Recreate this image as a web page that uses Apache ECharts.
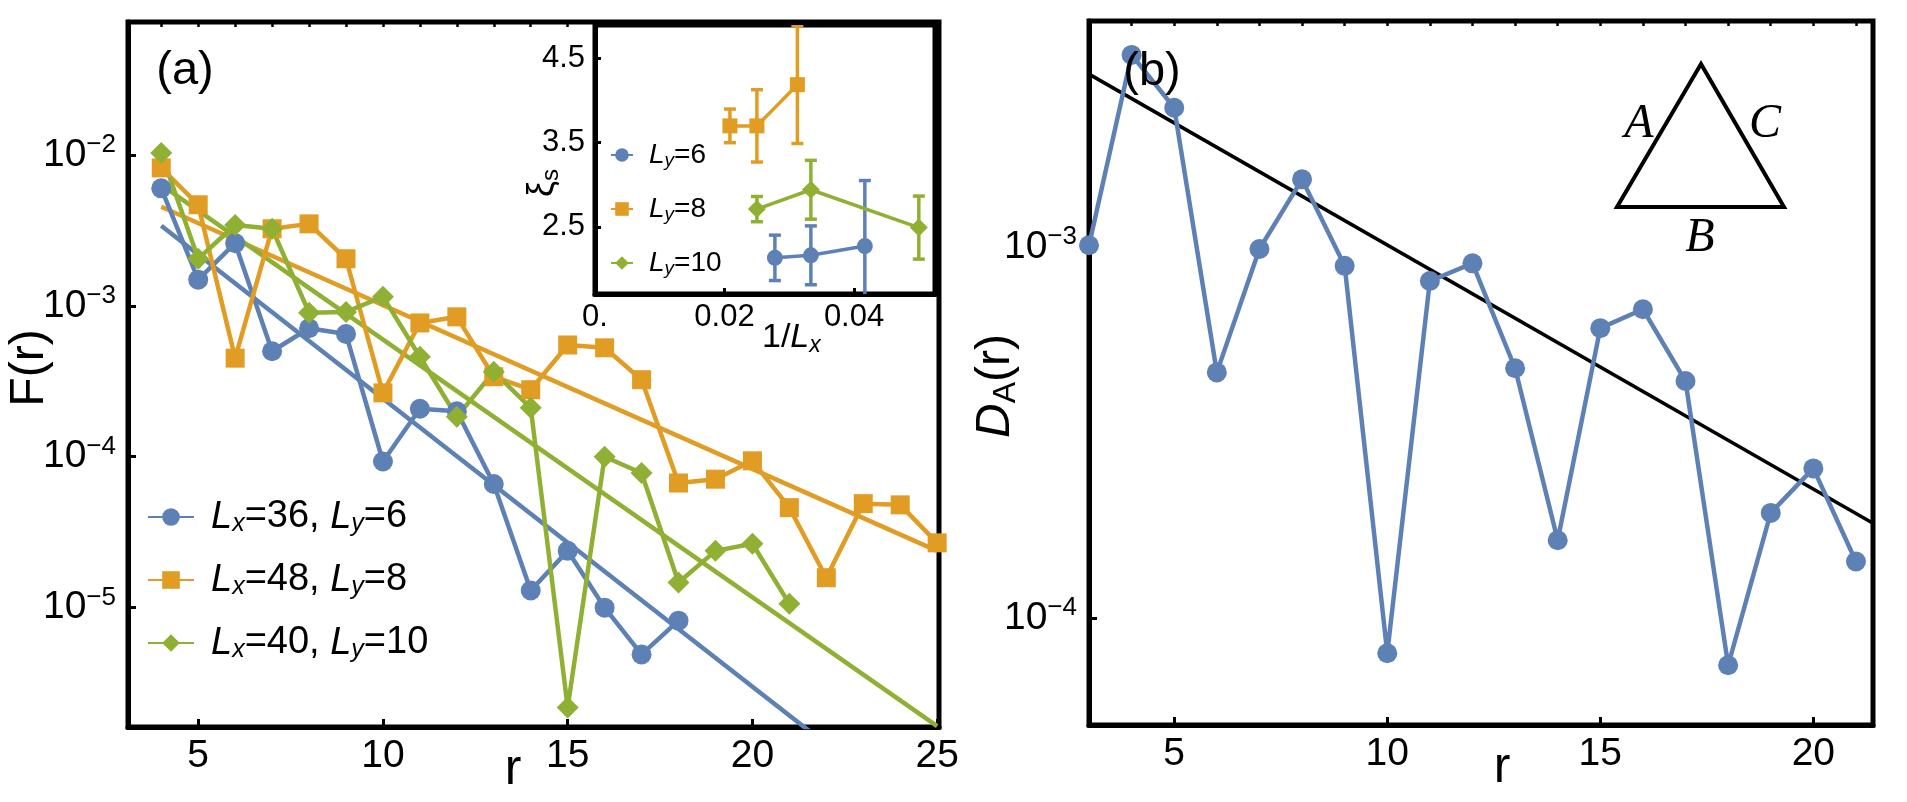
<!DOCTYPE html>
<html>
<head>
<meta charset="utf-8">
<title>F(r) and D_A(r)</title>
<script src="https://cdn.jsdelivr.net/npm/echarts@6.0.0/dist/echarts.min.js"></script>
<style>
  html, body { margin: 0; padding: 0; background: #fff; }
  #main { width: 1907px; height: 802px; }
</style>
</head>
<body>
<div id="main"></div>
<script>
var BLUE = '#5E81B5', ORANGE = '#E19C24', GREEN = '#8FB032';
var FONT = '"Liberation Sans", Arial, sans-serif';
var SERIF = '"Liberation Serif", "DejaVu Serif", serif';

// (a) F(r)
var rBlue = [4, 5, 6, 7, 8, 9, 10, 11, 12, 13, 14, 15, 16, 17, 18];
var fBlue = [6.0e-3, 1.49e-3, 2.6e-3, 5.0e-4, 7.1e-4, 6.5e-4, 9.3e-5, 2.08e-4, 2.0e-4,
             6.6e-5, 1.30e-5, 2.38e-5, 1.0e-5, 4.9e-6, 8.2e-6];
var rOrange = [4, 5, 6, 7, 8, 9, 10, 11, 12, 13, 14, 15, 16, 17, 18, 19, 20, 21, 22, 23, 24, 25];
var fOrange = [8.2e-3, 4.67e-3, 4.5e-4, 3.24e-3, 3.49e-3, 2.05e-3, 2.65e-4, 7.7e-4, 8.45e-4,
               3.39e-4, 2.78e-4, 5.5e-4, 5.27e-4, 3.24e-4, 6.7e-5, 7.1e-5, 9.4e-5, 4.6e-5,
               1.58e-5, 4.89e-5, 4.8e-5, 2.69e-5];
var rGreen = [4, 5, 6, 7, 8, 9, 10, 11, 12, 13, 14, 15, 16, 17, 18, 19, 20, 21];
var fGreen = [1.03e-2, 2.05e-3, 3.43e-3, 3.24e-3, 9.0e-4, 9.1e-4, 1.15e-3, 4.6e-4, 1.84e-4,
              3.65e-4, 2.11e-4, 2.18e-6, 1.0e-4, 7.8e-5, 1.47e-5, 2.38e-5, 2.65e-5, 1.06e-5];

// exponential fits (end points of the straight lines)
var fitR = [4, 25];
var fitBlue = [3.39e-3, 3.33e-7];
var fitOrange = [4.53e-3, 2.38e-5];
var fitGreen = [6.32e-3, 1.64e-6];

var legendLx = [36, 48, 40];
var legendLy = [6, 8, 10];

// inset: xi_s against 1/Lx
var lxBlue = [36, 30, 24];
var xiBlue = [2.13, 2.16, 2.27];
var errBlue = [0.27, 0.35, 0.78];
var lxOrange = [48, 40, 32];
var xiOrange = [3.70, 3.70, 4.19];
var errOrange = [0.20, 0.43, 0.70];
var lxGreen = [40, 30, 20];
var xiGreen = [2.71, 2.94, 2.49];
var errGreen = [0.15, 0.35, 0.375];

// (b) D_A(r)
var rB = [3, 4, 5, 6, 7, 8, 9, 10, 11, 12, 13, 14, 15, 16, 17, 18, 19, 20, 21];
var dA = [1.01e-3, 3.29e-3, 2.37e-3, 4.59e-4, 9.87e-4, 1.52e-3, 8.89e-4, 8.04e-5, 8.09e-4,
          9.03e-4, 4.71e-4, 1.62e-4, 6.04e-4, 6.79e-4, 4.35e-4, 7.46e-5, 1.92e-4, 2.53e-4, 1.42e-4];
var fitBR = [3, 21.4];
var fitB = [2.92e-3, 1.80e-4];

// ticks
var ticksA = [5, 10, 15, 20, 25];
var minorA = [4, 5, 6, 7, 8, 9, 10, 11, 12, 13, 14, 15, 16, 17, 18, 19, 20, 21, 22, 23, 24, 25];
var ticksB = [5, 10, 15, 20];
var minorB = [4, 5, 6, 7, 8, 9, 10, 11, 12, 13, 14, 15, 16, 17, 18, 19, 20, 21];
var labelsInsetX = [0, 0.02, 0.04];
var ticksInsetX = [0.02, 0.04];
var ticksInsetY = [2.5, 3.5, 4.5];

function pairs(xs, ys) {
  return xs.map(function (x, i) { return [x, ys[i]]; });
}
function barData(lx, xi, err) {
  return lx.map(function (l, i) { return [1 / l, xi[i] - err[i], xi[i] + err[i]]; });
}

// 10^-n labels, only on whole decades
function powLabel(v) {
  var e = Math.log10(v), k = Math.round(e);
  if (Math.abs(e - k) > 1e-6) return '';
  return '{b|10}{s|\u2212' + (-k) + '}';
}
var powRich = {
  b: { fontSize: 39, lineHeight: 46, fontFamily: FONT, color: '#000' },
  s: { fontSize: 26, lineHeight: 26, verticalAlign: 'top', fontFamily: FONT, color: '#000' }
};

var frameLine = { show: true, onZero: false, lineStyle: { color: '#000', width: 5 } };

function xMajor(grid, min, max, ticks) {
  return {
    type: 'value', gridIndex: grid, min: min, max: max,
    axisLine: frameLine,
    axisTick: { show: true, inside: true, length: 8, customValues: ticks, lineStyle: { color: '#000', width: 3 } },
    axisLabel: { show: true, customValues: ticks, margin: 10, color: '#000', fontSize: 39, fontFamily: FONT },
    splitLine: { show: false }
  };
}
function xMinor(grid, min, max, ticks) {
  return {
    type: 'value', gridIndex: grid, min: min, max: max,
    axisLine: { show: false },
    axisTick: { show: true, inside: true, length: 5, customValues: ticks, lineStyle: { color: '#000', width: 2.5 } },
    axisLabel: { show: false },
    splitLine: { show: false }
  };
}
function yLog(grid, min, max) {
  return {
    type: 'log', logBase: 10, gridIndex: grid, min: min, max: max,
    axisLine: frameLine,
    axisTick: { show: true, inside: true, length: 8, lineStyle: { color: '#000', width: 3 } },
    axisLabel: { formatter: powLabel, margin: 12, rich: powRich },
    minorTick: { show: false },
    splitLine: { show: false }
  };
}

function errorBars(params, api) {
  var x = api.value(0), lo = api.value(1), hi = api.value(2);
  var top = api.coord([x, hi]), bot = api.coord([x, lo]);
  var half = 6;
  var st = { stroke: api.visual('color'), lineWidth: 3.5 };
  var cs = params.coordSys;
  return {
    type: 'group',
    clipPath: { type: 'rect', shape: { x: cs.x, y: cs.y, width: cs.width, height: cs.height } },
    children: [
      { type: 'line', shape: { x1: top[0], y1: top[1], x2: bot[0], y2: bot[1] }, style: st },
      { type: 'line', shape: { x1: top[0] - half, y1: top[1], x2: top[0] + half, y2: top[1] }, style: st },
      { type: 'line', shape: { x1: bot[0] - half, y1: bot[1], x2: bot[0] + half, y2: bot[1] }, style: st }
    ]
  };
}

function dataLine(name, xi, yi, xs, ys, color, symbol, size, width) {
  return {
    name: name, type: 'line', xAxisIndex: xi, yAxisIndex: yi,
    data: pairs(xs, ys), symbol: symbol, symbolSize: size, showSymbol: true,
    lineStyle: { color: color, width: width }, itemStyle: { color: color },
    emphasis: { disabled: true }, z: 3
  };
}
function fitLine(xi, yi, xs, ys, color, width) {
  return {
    type: 'line', xAxisIndex: xi, yAxisIndex: yi, data: pairs(xs, ys),
    symbol: 'none', lineStyle: { color: color, width: width }, itemStyle: { color: color },
    silent: true, clip: true, emphasis: { disabled: true }, z: 2
  };
}

var namesA = legendLx.map(function (lx, i) { return 'Lx=' + lx + ', Ly=' + legendLy[i]; });
var namesIn = legendLy.map(function (ly) { return 'Ly=' + ly; });

var chart = echarts.init(document.getElementById('main'));

var option = {
  backgroundColor: '#fff',
  animation: false,
  grid: [
    { left: 128, top: 22, width: 811, height: 705, show: true, borderColor: '#000', borderWidth: 5, outerBoundsMode: 'none' },
    { left: 595, top: 25, width: 340, height: 269, show: true, borderColor: '#000', borderWidth: 5, backgroundColor: '#fff', outerBoundsMode: 'none' },
    { left: 1089, top: 21, width: 784, height: 704, show: true, borderColor: '#000', borderWidth: 5, outerBoundsMode: 'none' }
  ],
  xAxis: [
    xMajor(0, 3.1, 25.05, ticksA),
    xMinor(0, 3.1, 25.05, minorA),
    xMajor(2, 3, 21.4, ticksB),
    xMinor(2, 3, 21.4, minorB),
    {
      type: 'value', gridIndex: 1, min: 0, max: 0.0525,
      axisLine: frameLine,
      axisTick: { show: true, inside: true, length: 6, customValues: ticksInsetX, lineStyle: { color: '#000', width: 3 } },
      axisLabel: {
        customValues: labelsInsetX, margin: 8, color: '#000', fontSize: 31, fontFamily: FONT,
        formatter: function (v) { return v === 0 ? '0.' : v.toFixed(2); }
      },
      splitLine: { show: false }
    }
  ],
  yAxis: [
    yLog(0, 1.62e-6, 0.0759),
    {
      type: 'value', gridIndex: 1, min: 1.70, max: 4.90,
      axisLine: frameLine,
      axisTick: { show: true, inside: true, length: 6, customValues: ticksInsetY, lineStyle: { color: '#000', width: 3 } },
      axisLabel: {
        customValues: ticksInsetY, margin: 10, color: '#000', fontSize: 31, fontFamily: FONT,
        formatter: function (v) { return v.toFixed(1); }
      },
      splitLine: { show: false }
    },
    yLog(2, 5.15e-5, 4.06e-3)
  ],
  legend: [
    {
      data: namesA, orient: 'vertical', left: 147, top: 498, padding: 0,
      itemWidth: 46, itemHeight: 22, itemGap: 24, selectedMode: false,
      formatter: function (name) {
        var i = namesA.indexOf(name);
        return '{g|}{i|L}{sub|x}{t|=' + legendLx[i] + ', }{i|L}{sub|y}{t|=' + legendLy[i] + '}';
      },
      textStyle: {
        color: '#000', fontFamily: FONT, fontSize: 38,
        rich: {
          g: { width: 12, lineHeight: 40 },
          t: { fontSize: 38, lineHeight: 40, fontFamily: FONT, color: '#000' },
          i: { fontSize: 38, lineHeight: 40, fontStyle: 'italic', fontFamily: FONT, color: '#000' },
          sub: { fontSize: 25, lineHeight: 16, verticalAlign: 'bottom', fontStyle: 'italic', fontFamily: FONT, color: '#000' }
        }
      }
    },
    {
      data: namesIn, orient: 'vertical', left: 610, top: 141, padding: 0,
      itemWidth: 22, itemHeight: 17, itemGap: 25, selectedMode: false,
      formatter: function (name) {
        var i = namesIn.indexOf(name);
        return '{g|}{i|L}{sub|y}{t|=' + legendLy[i] + '}';
      },
      textStyle: {
        color: '#000', fontFamily: FONT, fontSize: 28,
        rich: {
          g: { width: 11, lineHeight: 30 },
          t: { fontSize: 28, lineHeight: 30, fontFamily: FONT, color: '#000' },
          i: { fontSize: 28, lineHeight: 30, fontStyle: 'italic', fontFamily: FONT, color: '#000' },
          sub: { fontSize: 19, lineHeight: 12, verticalAlign: 'bottom', fontStyle: 'italic', fontFamily: FONT, color: '#000' }
        }
      }
    }
  ],
  series: [
    fitLine(0, 0, fitR, fitBlue, BLUE, 4.5),
    fitLine(0, 0, fitR, fitOrange, ORANGE, 4.5),
    fitLine(0, 0, fitR, fitGreen, GREEN, 4.5),
    dataLine(namesA[0], 0, 0, rBlue, fBlue, BLUE, 'circle', 20, 4.5),
    dataLine(namesA[1], 0, 0, rOrange, fOrange, ORANGE, 'rect', 19, 4.5),
    dataLine(namesA[2], 0, 0, rGreen, fGreen, GREEN, 'diamond', 22, 4.5),

    { type: 'custom', xAxisIndex: 4, yAxisIndex: 1, renderItem: errorBars, data: barData(lxBlue, xiBlue, errBlue),
      encode: { x: 0, y: [1, 2] }, itemStyle: { color: BLUE }, silent: true, z: 3 },
    { type: 'custom', xAxisIndex: 4, yAxisIndex: 1, renderItem: errorBars, data: barData(lxOrange, xiOrange, errOrange),
      encode: { x: 0, y: [1, 2] }, itemStyle: { color: ORANGE }, silent: true, z: 3 },
    { type: 'custom', xAxisIndex: 4, yAxisIndex: 1, renderItem: errorBars, data: barData(lxGreen, xiGreen, errGreen),
      encode: { x: 0, y: [1, 2] }, itemStyle: { color: GREEN }, silent: true, z: 3 },
    dataLine(namesIn[0], 4, 1, lxBlue.map(function (l) { return 1 / l; }), xiBlue, BLUE, 'circle', 16, 3.5),
    dataLine(namesIn[1], 4, 1, lxOrange.map(function (l) { return 1 / l; }), xiOrange, ORANGE, 'rect', 15, 3.5),
    dataLine(namesIn[2], 4, 1, lxGreen.map(function (l) { return 1 / l; }), xiGreen, GREEN, 'diamond', 18, 3.5),

    fitLine(2, 2, fitBR, fitB, '#000', 3.5),
    dataLine('DA', 2, 2, rB, dA, BLUE, 'circle', 20, 4.5)
  ],
  graphic: [
    { type: 'text', x: 185, y: 71, z: 10,
      style: { text: '(a)', fontSize: 47, fontFamily: FONT, fill: '#000', align: 'center', verticalAlign: 'middle', textAlign: 'center', textVerticalAlign: 'middle' } },
    { type: 'text', x: 1152, y: 72, z: 10,
      style: { text: '(b)', fontSize: 47, fontFamily: FONT, fill: '#000', align: 'center', verticalAlign: 'middle', textAlign: 'center', textVerticalAlign: 'middle' } },
    { type: 'text', x: 30, y: 368, rotation: Math.PI / 2, z: 10,
      style: { text: 'F(r)', fontSize: 48, fontFamily: FONT, fill: '#000', align: 'center', verticalAlign: 'middle', textAlign: 'center', textVerticalAlign: 'middle' } },
    { type: 'text', x: 513, y: 770, z: 10,
      style: { text: 'r', fontSize: 50, fontFamily: FONT, fill: '#000', align: 'center', verticalAlign: 'middle', textAlign: 'center', textVerticalAlign: 'middle' } },
    { type: 'text', x: 1502, y: 768, z: 10,
      style: { text: 'r', fontSize: 50, fontFamily: FONT, fill: '#000', align: 'center', verticalAlign: 'middle', textAlign: 'center', textVerticalAlign: 'middle' } },
    { type: 'text', x: 996, y: 386, rotation: Math.PI / 2, z: 10,
      style: {
        text: '{i|D}{sub|A}{t|(r)}', align: 'center', verticalAlign: 'middle', textAlign: 'center', textVerticalAlign: 'middle',
        rich: {
          i: { fontSize: 48, lineHeight: 52, fontStyle: 'italic', fontFamily: FONT, fill: '#000' },
          t: { fontSize: 48, lineHeight: 52, fontFamily: FONT, fill: '#000' },
          sub: { fontSize: 32, lineHeight: 22, verticalAlign: 'bottom', fontFamily: FONT, fill: '#000' }
        }
      } },
    { type: 'text', x: 543, y: 183, rotation: Math.PI / 2, z: 10,
      style: {
        text: '{t|\u03BE}{sub|s}', align: 'center', verticalAlign: 'middle', textAlign: 'center', textVerticalAlign: 'middle',
        rich: {
          t: { fontSize: 36, lineHeight: 40, fontFamily: FONT, fill: '#000' },
          sub: { fontSize: 24, lineHeight: 16, verticalAlign: 'bottom', fontFamily: FONT, fill: '#000' }
        }
      } },
    { type: 'text', x: 762, y: 338, z: 10,
      style: {
        text: '{t|1/}{i|L}{sub|x}', align: 'left', verticalAlign: 'middle', textAlign: 'left', textVerticalAlign: 'middle',
        rich: {
          t: { fontSize: 34, lineHeight: 38, fontFamily: FONT, fill: '#000' },
          i: { fontSize: 34, lineHeight: 38, fontStyle: 'italic', fontFamily: FONT, fill: '#000' },
          sub: { fontSize: 23, lineHeight: 14, verticalAlign: 'bottom', fontStyle: 'italic', fontFamily: FONT, fill: '#000' }
        }
      } },
    { type: 'polygon', z: 10,
      shape: { points: [[1701, 64], [1617, 207], [1784, 207]] },
      style: { fill: 'none', stroke: '#000', lineWidth: 4, lineJoin: 'miter' } },
    { type: 'text', x: 1639, y: 124, z: 10,
      style: { text: 'A', fontSize: 48, fontStyle: 'italic', fontFamily: SERIF, fill: '#000', align: 'center', verticalAlign: 'middle', textAlign: 'center', textVerticalAlign: 'middle' } },
    { type: 'text', x: 1765, y: 124, z: 10,
      style: { text: 'C', fontSize: 48, fontStyle: 'italic', fontFamily: SERIF, fill: '#000', align: 'center', verticalAlign: 'middle', textAlign: 'center', textVerticalAlign: 'middle' } },
    { type: 'text', x: 1700, y: 238, z: 10,
      style: { text: 'B', fontSize: 48, fontStyle: 'italic', fontFamily: SERIF, fill: '#000', align: 'center', verticalAlign: 'middle', textAlign: 'center', textVerticalAlign: 'middle' } }
  ]
};

chart.setOption(option);
</script>
</body>
</html>
